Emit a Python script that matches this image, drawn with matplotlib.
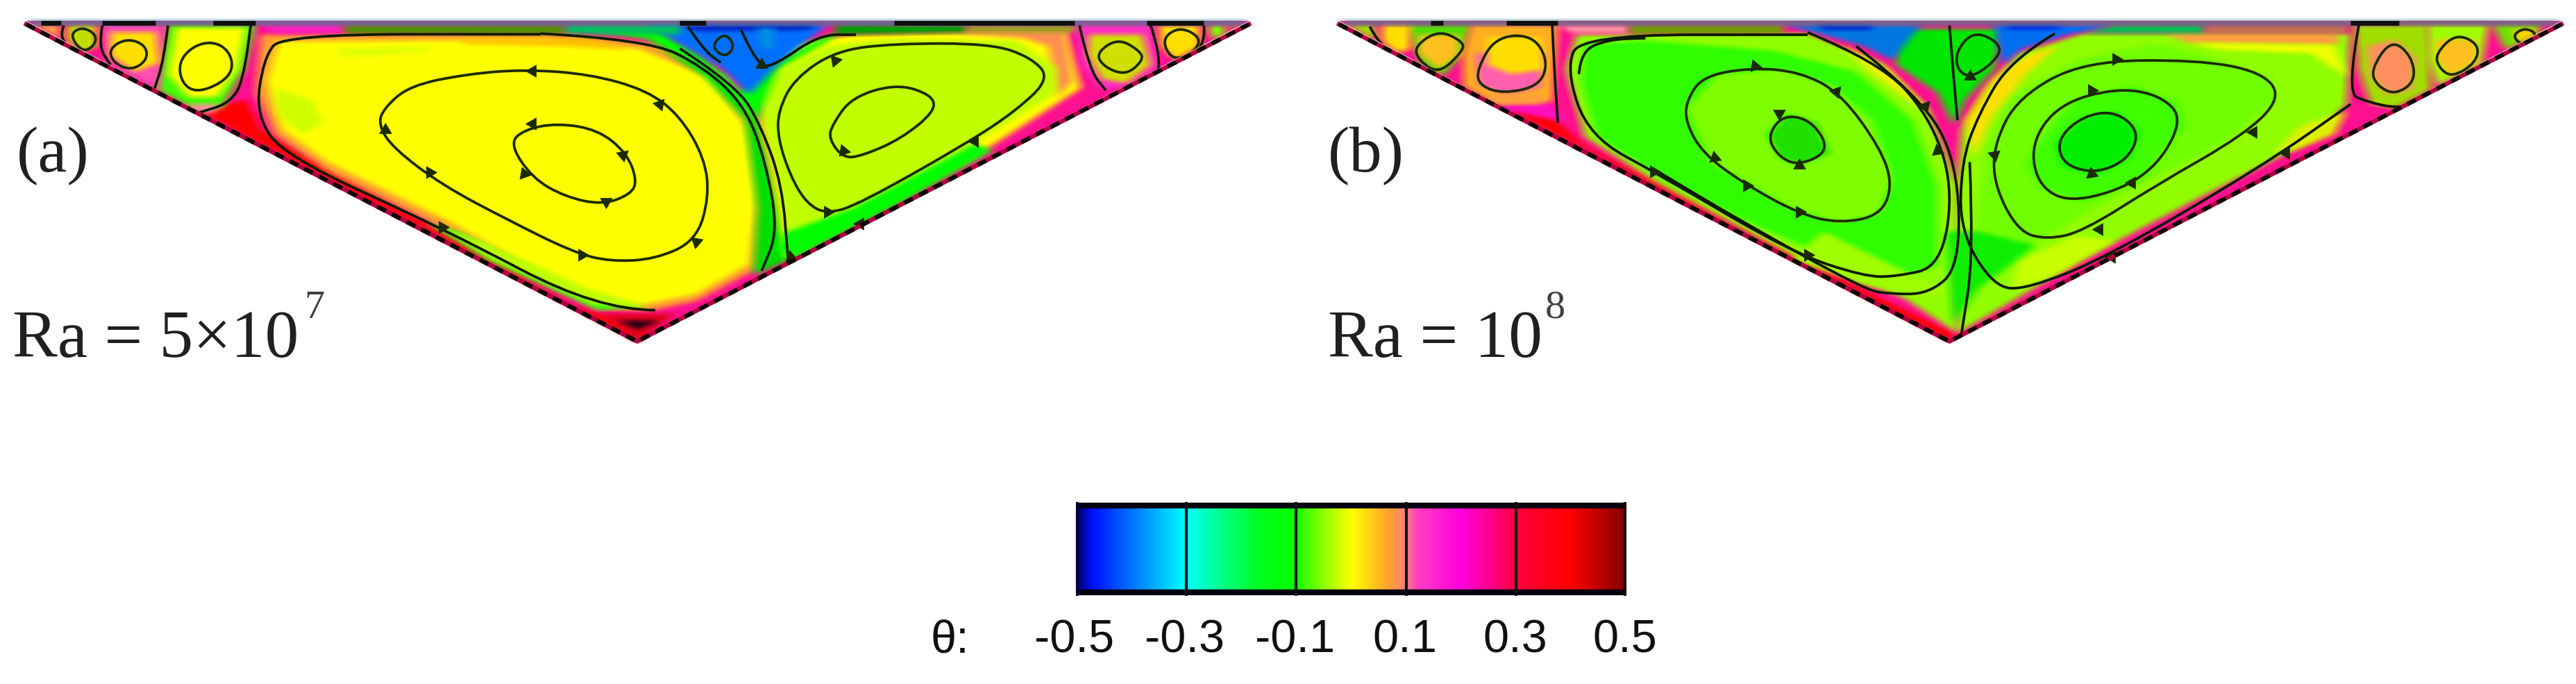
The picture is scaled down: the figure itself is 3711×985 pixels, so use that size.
import numpy as np
import matplotlib
matplotlib.use("Agg")
import matplotlib.pyplot as plt
from matplotlib.colors import LinearSegmentedColormap, to_rgb
from matplotlib.path import Path
from matplotlib.patches import PathPatch, Polygon

W, H = 3711, 985

# colour scale
cbar_ticks = [-0.5, -0.3, -0.1, 0.1, 0.3, 0.5]
cbar_labels = ["-0.5", "-0.3", "-0.1", "0.1", "0.3", "0.5"]
cmap_stops = [0.0, 0.03, 0.2, 0.25, 0.33, 0.4, 0.41, 0.5, 0.57, 0.6, 0.62, 0.7, 0.8, 0.9, 0.95, 1.0]
cmap_cols = ["#000060", "#0010ff", "#00ffff", "#00ffa0", "#00ff20", "#00ff00", "#30ff00", "#ffff00",
             "#ffa030", "#ff8080", "#ff40c0", "#ff00e0", "#ff0040", "#ff0000", "#c00000", "#800000"]

# panel a, coordinates
tri_a = [(32, 90), (1525, 90), (778, 1475)]
a_red = [(232, 490), (300, 430), (320, 560), (400, 730), (560, 1040), (700, 1320), (790, 1420), (778, 1480)]
a_orange = [(318, 150), (680, 140), (800, 190), (890, 330), (935, 560), (945, 900), (930, 1150), (850, 1300), (790, 1345), (730, 1335), (560, 1020), (400, 740), (335, 580), (312, 400)]
a_yellow = [(340, 180), (660, 170), (780, 210), (870, 340), (915, 560), (925, 850), (915, 1140), (850, 1270), (780, 1320), (735, 1310), (660, 1180), (550, 960), (400, 700), (345, 560), (326, 350)]
a_lime_low = [(535, 975), (600, 1060), (720, 1250), (790, 1320), (725, 1315), (600, 1120)]
a_lime_top = [(410, 210), (530, 200), (520, 225), (420, 250)]
a_lime_side = [(335, 380), (380, 430), (395, 530), (370, 580), (340, 500)]
a_amber_top = [(560, 170), (720, 170), (770, 215), (690, 200), (570, 190)]
a_green_low = [(520, 960), (560, 1000), (720, 1260), (790, 1325), (730, 1340), (600, 1130)]
a_green_mid = [(800, 200), (880, 320), (925, 520), (955, 900), (965, 1120), (920, 1190), (925, 900), (910, 520), (860, 330)]
a_right_band = [(960, 190), (1040, 150), (1300, 130), (1320, 380), (1180, 700), (1000, 1030), (960, 1120), (940, 700), (925, 400)]
a_right_orange = [(1150, 140), (1300, 130), (1310, 350), (1290, 420), (1280, 200), (1250, 165)]
a_right_cell = [(945, 320), (1010, 200), (1080, 170), (1240, 175), (1290, 290), (1290, 400), (1180, 640), (1030, 930), (980, 1040), (958, 1050), (950, 800), (930, 500)]
a_green_right = [(1190, 620), (1212, 650), (1060, 960), (968, 1125), (950, 1080), (955, 1010), (1040, 900)]
a_blue = [(790, 108), (1010, 108), (950, 280), (915, 410), (880, 290), (835, 200)]
a_blue_dark = [(830, 108), (1000, 108), (985, 130), (850, 135)]
a_cyan = [(925, 120), (945, 120), (945, 210), (930, 210)]
a_green_top = [(700, 120), (800, 120), (860, 250), (905, 400), (925, 310), (1000, 170), (1030, 130), (1010, 180), (950, 300), (925, 520), (870, 320), (790, 170)]
a_strip = [(32, 90), (1525, 90), (1525, 107), (32, 107)]
a_band1 = [(320, 107), (420, 107), (420, 145), (335, 145)]
a_band2 = [(420, 108), (690, 108), (690, 146), (420, 146)]
a_band3 = [(690, 108), (830, 108), (830, 150), (750, 150), (690, 146)]
a_band4 = [(1020, 108), (1180, 108), (1180, 140), (1020, 150)]
a_band5 = [(1180, 108), (1315, 108), (1315, 140), (1180, 140)]
a_cell1 = [(205, 108), (312, 108), (298, 300), (270, 470), (230, 470), (190, 380)]
a_cell1_in = [(215, 120), (300, 120), (290, 300), (265, 420), (230, 420), (205, 320)]
a_cell1_base = [(215, 450), (270, 450), (260, 490), (235, 490)]
a_cell2 = [(125, 108), (200, 108), (195, 390), (180, 380), (130, 260)]
a_cell2_in = [(135, 140), (190, 140), (195, 270), (165, 310), (135, 240)]
a_cell3 = [(82, 108), (118, 108), (118, 200), (100, 230), (82, 170)]
a_cell4 = [(35, 108), (72, 108), (75, 170), (60, 150)]
a_r_cell1 = [(1315, 108), (1405, 108), (1415, 300), (1385, 385), (1345, 385), (1320, 280)]
a_r_cell1_in = [(1330, 150), (1395, 150), (1405, 280), (1375, 360), (1345, 340), (1328, 240)]
a_r_cell2 = [(1415, 110), (1465, 110), (1465, 210), (1435, 260), (1418, 200)]
a_r_cell3 = [(1475, 110), (1495, 110), (1495, 160), (1482, 180)]
a_r_cell4 = [(1500, 108), (1525, 108), (1515, 150)]
a_tip = [(735, 1355), (825, 1355), (778, 1480)]
a_tip_dark = [(755, 1385), (805, 1385), (778, 1425)]

a_ring1 = [(468, 470), (500, 370), (570, 320), (640, 300), (720, 320), (790, 390), (830, 500), (860, 680), (866, 850), (850, 1040), (800, 1120), (745, 1130), (700, 1090), (620, 950), (540, 800), (480, 640), (462, 540)]
a_ring2 = [(622, 620), (640, 560), (680, 532), (730, 560), (765, 660), (778, 780), (770, 840), (735, 885), (690, 850), (650, 770)]
a_ring3 = [(950, 480), (970, 340), (1020, 220), (1090, 188), (1210, 188), (1260, 250), (1282, 340), (1240, 480), (1180, 620), (1050, 880), (1010, 925), (985, 880), (965, 760), (950, 600)]
a_ring4 = [(1016, 540), (1040, 420), (1095, 362), (1138, 410), (1142, 480), (1100, 600), (1055, 670), (1030, 685), (1012, 600)]
a_ring5 = [(218, 270), (235, 200), (260, 178), (280, 220), (285, 300), (270, 360), (240, 400), (222, 360)]
a_ring6 = [(133, 210), (155, 165), (178, 195), (180, 260), (160, 305), (138, 270)]
a_ring7 = [(1338, 230), (1365, 165), (1392, 220), (1396, 260), (1375, 325), (1348, 290)]
a_ring8 = [(868, 200), (885, 140), (898, 200), (885, 250)]
a_ring9 = [(85, 150), (100, 115), (118, 150), (115, 200), (100, 225)]
a_ring10 = [(1418, 170), (1440, 115), (1466, 160), (1460, 220), (1432, 265)]
a_sep1 = [(660, 145), (790, 170), (860, 290), (910, 460), (935, 700), (950, 1000), (930, 1170)]
a_sep2 = [(830, 210), (900, 370), (930, 550), (955, 800), (962, 1110)]
a_sep3 = [(800, 1340), (730, 1340), (540, 985), (350, 680), (312, 500), (322, 250), (345, 148), (660, 148)]
a_sep4 = [(306, 110), (300, 300), (285, 440), (240, 490)]
a_sep5 = [(205, 110), (200, 260), (188, 390)]
a_sep6 = [(905, 130), (925, 285), (945, 285), (1000, 150), (1045, 150)]
a_sep7 = [(1318, 110), (1330, 300), (1350, 390)]
a_sep8 = [(1405, 110), (1420, 270), (1405, 370)]
a_sep9 = [(125, 110), (120, 200), (135, 280)]
a_sep10 = [(78, 110), (72, 160), (90, 220)]
a_sep11 = [(1470, 110), (1472, 180), (1450, 270)]
a_sep12 = [(840, 115), (860, 220), (880, 270)]
a_arrows = [(650, 305, 90), (805, 450, 200), (470, 560, 0), (525, 745, 30), (710, 1100, 30), (850, 1045, 170), (650, 535, 90), (760, 670, 190), (640, 750, 20), (740, 870, 60), (1020, 260, 160), (1190, 610, 210), (1010, 915, 30), (1030, 650, 20), (930, 280, 0), (540, 980, 30), (965, 1110, 10), (1050, 965, 210)]
a_top_black = [(50, 75), (125, 190), (260, 312), (830, 862), (1092, 1312), (1400, 1470)]

# panel b
tri_b = [(42, 90), (1550, 90), (795, 1475)]
b_red = [(225, 460), (310, 520), (345, 630), (430, 780), (560, 1030), (700, 1270), (800, 1440), (795, 1480)]
b_pink = [(225, 440), (300, 440), (322, 520), (300, 540)]
b_left_outer = [(335, 150), (620, 145), (710, 270), (770, 480), (805, 800), (805, 1440), (740, 1290), (600, 1100), (430, 780), (345, 590), (322, 300)]
b_left_yellow = [(660, 190), (720, 300), (770, 480), (755, 460), (700, 320)]
b_left_green = [(345, 190), (420, 175), (580, 220), (680, 310), (750, 520), (780, 800), (780, 1150), (740, 1190), (640, 1100), (540, 950), (440, 770), (360, 590), (340, 350)]
b_left_lime = [(470, 470), (510, 320), (590, 300), (650, 370), (700, 520), (725, 760), (710, 920), (660, 965), (600, 900), (500, 700)]
b_left_core = [(570, 580), (595, 490), (630, 530), (648, 660), (610, 715), (585, 680)]
b_left_lime2 = [(640, 1000), (750, 1190), (790, 1250), (770, 1280), (690, 1230), (600, 1120)]
b_right_outer = [(880, 230), (960, 145), (1290, 145), (1285, 450), (1240, 610), (1100, 860), (960, 1120), (805, 1440), (800, 1000), (810, 560), (840, 380)]
b_right_orange = [(1060, 145), (1275, 145), (1275, 195), (1180, 190), (1090, 185)]
b_right_yellow2 = [(1090, 185), (1270, 195), (1285, 330), (1240, 230), (1130, 215)]
b_right_green = [(840, 640), (870, 420), (960, 250), (1050, 190), (1100, 230), (1190, 330), (1200, 430), (1130, 620), (1010, 830), (910, 1030), (880, 1130), (850, 1200), (825, 1050)]
b_right_yellow = [(815, 520), (850, 340), (890, 240), (930, 195), (890, 320), (848, 500), (825, 680)]
b_right_lime = [(900, 640), (950, 430), (1020, 370), (1075, 440), (1085, 540), (1030, 780), (960, 875), (910, 810), (890, 720)]
b_right_core = [(925, 620), (960, 510), (1000, 480), (1030, 570), (1015, 690), (975, 755), (935, 720)]
b_right_yellow3 = [(880, 1130), (950, 1020), (1000, 1040), (930, 1180), (870, 1260)]
b_right_pale = [(1230, 540), (1285, 480), (1270, 580), (1220, 650), (1195, 660)]
b_center = [(725, 125), (860, 125), (850, 300), (815, 430), (800, 540), (780, 400), (730, 280)]
b_center_low = [(790, 1000), (830, 1000), (900, 1060), (830, 1250), (800, 1400)]
b_blue1 = [(590, 108), (760, 108), (725, 260), (690, 200), (630, 140)]
b_blue2 = [(850, 108), (1000, 108), (940, 150), (885, 210), (860, 280)]
b_blue1_dark = [(630, 108), (700, 108), (700, 128), (640, 128)]
b_blue2_dark = [(860, 108), (935, 108), (925, 128), (870, 128)]
b_strip = [(42, 90), (1550, 90), (1550, 107), (42, 107)]
b_band1 = [(312, 107), (400, 107), (400, 145), (330, 145)]
b_band2 = [(400, 108), (590, 108), (590, 146), (400, 146)]
b_band3 = [(1000, 108), (1110, 108), (1110, 145), (960, 145)]
b_band4 = [(1110, 108), (1290, 108), (1285, 145), (1110, 145)]
b_cell1 = [(125, 108), (205, 108), (195, 230), (170, 330), (145, 290)]
b_cell1_in = [(140, 150), (190, 150), (190, 240), (165, 300), (140, 230)]
b_cell2 = [(205, 108), (312, 108), (305, 440), (232, 450), (195, 370), (195, 230)]
b_cell2_pink = [(210, 230), (295, 230), (290, 380), (250, 410), (215, 370)]
b_cell2_yellow = [(225, 160), (290, 160), (295, 300), (255, 320), (225, 280)]
b_cell2_orange = [(215, 410), (295, 410), (290, 450), (235, 450)]
b_cell3 = [(95, 108), (130, 108), (130, 210), (110, 240), (95, 170)]
b_cell4 = [(42, 108), (85, 108), (90, 200), (60, 160)]
b_r_cell1 = [(1295, 108), (1385, 108), (1390, 430), (1350, 470), (1315, 450), (1300, 300)]
b_r_cell1_in = [(1310, 200), (1345, 170), (1370, 250), (1365, 390), (1335, 410), (1315, 330)]
b_r_cell2 = [(1385, 108), (1460, 108), (1450, 300), (1400, 400), (1385, 250)]
b_r_cell2_in = [(1395, 170), (1445, 170), (1445, 270), (1410, 330), (1395, 250)]
b_r_cell3 = [(1465, 108), (1525, 108), (1510, 210), (1480, 210)]
b_r_cell3_in = [(1490, 125), (1518, 125), (1512, 175), (1495, 180)]

b_ring1 = [(470, 440), (490, 330), (550, 292), (610, 310), (660, 400), (710, 640), (725, 800), (710, 930), (660, 965), (610, 925), (540, 790), (490, 660), (470, 530)]
b_ring2 = [(570, 590), (590, 495), (625, 520), (648, 650), (610, 715), (585, 680)]
b_ring3 = [(850, 620), (880, 420), (960, 265), (1100, 258), (1180, 310), (1205, 420), (1160, 580), (1050, 800), (960, 1000), (915, 1035), (880, 1000), (850, 800)]
b_ring4 = [(895, 620), (930, 450), (1000, 380), (1055, 410), (1085, 520), (1040, 770), (950, 880), (905, 810)]
b_ring5 = [(928, 600), (960, 500), (1000, 480), (1030, 570), (1015, 690), (975, 750), (935, 710)]
b_ring7 = [(803, 220), (825, 135), (855, 180), (858, 240), (825, 335), (805, 310)]
b_ring8 = [(212, 300), (235, 160), (280, 150), (300, 260), (290, 370), (245, 405), (215, 370)]
b_ring9 = [(1315, 300), (1340, 170), (1365, 240), (1370, 350), (1345, 410), (1322, 370)]
b_ring10 = [(1395, 230), (1420, 145), (1448, 190), (1445, 270), (1415, 335), (1398, 290)]
b_ring11 = [(135, 200), (165, 130), (195, 180), (195, 220), (165, 320), (140, 260)]
b_ring12 = [(1490, 150), (1505, 120), (1520, 145), (1512, 185), (1498, 190)]
b_sep1 = [(620, 140), (710, 270), (770, 500), (800, 800), (785, 1150), (730, 1195), (690, 1195), (600, 1090), (440, 760), (350, 590), (322, 300), (340, 150), (620, 150)]
b_sep2 = [(680, 200), (760, 420), (805, 700), (808, 1150), (770, 1270), (720, 1270), (690, 1250), (540, 960), (430, 730)]
b_sep3 = [(925, 145), (870, 260), (830, 500), (810, 700), (808, 1000), (850, 1240), (890, 1250), (990, 1110), (1180, 720), (1290, 450)]
b_sep4 = [(820, 700), (825, 1100), (810, 1440)]
b_sep5 = [(305, 110), (308, 330), (312, 530)]
b_sep6 = [(1300, 110), (1285, 400), (1310, 440), (1350, 470), (1390, 430)]
b_sep7 = [(338, 320), (340, 220), (375, 170), (420, 165)]
b_sep8 = [(795, 110), (800, 330), (805, 520)]
b_sep9 = [(80, 115), (88, 170), (110, 240)]
b_arrows = [(555, 285, 20), (655, 395, 200), (505, 680, 10), (545, 800, 30), (610, 915, 30), (585, 490, 180), (610, 715, 0), (1000, 255, 30), (1170, 570, 210), (980, 990, 210), (970, 390, 30), (1020, 790, 210), (970, 750, 10), (430, 740, 30), (620, 1100, 30), (820, 330, 0), (765, 460, 200), (780, 650, 10), (850, 670, 190), (1210, 660, 210), (995, 1110, 210)]
b_top_black = [(155, 170), (248, 312), (1290, 1350)]


def smooth(pts, closed=True):
    # quadratic pieces through edge midpoints, so the read points act as controls
    p = np.asarray(pts, dtype=float)
    if closed:
        start = (p[-1] + p[0]) / 2
        verts, codes = [start], [Path.MOVETO]
        for i in range(len(p)):
            verts += [p[i], (p[i] + p[(i + 1) % len(p)]) / 2]
            codes += [Path.CURVE3, Path.CURVE3]
        verts.append(start)
        codes.append(Path.CLOSEPOLY)
    else:
        verts, codes = [p[0]], [Path.MOVETO]
        for i in range(1, len(p) - 1):
            verts += [p[i], (p[i] + p[i + 1]) / 2]
            codes += [Path.CURVE3, Path.CURVE3]
        verts += [p[-1]]
        codes += [Path.LINETO]
    return Path(verts, codes)


def soft_fill(col, rx=9, ry=4):
    # colour areas in the source run into each other, so the edges get a small blur
    rgb = to_rgb(col)
    kx = np.ones(2 * rx + 1) / (2 * rx + 1)
    ky = np.ones(2 * ry + 1) / (2 * ry + 1)

    def filt(img, dpi):
        alpha = np.pad(img[..., 3], ((ry, ry), (rx, rx)))
        alpha = np.apply_along_axis(lambda r: np.convolve(r, kx, mode="same"), 1, alpha)
        alpha = np.apply_along_axis(lambda c: np.convolve(c, ky, mode="same"), 0, alpha)
        out = np.zeros(alpha.shape + (4,))
        out[..., 0], out[..., 1], out[..., 2] = rgb
        out[..., 3] = alpha
        return out, -rx, -ry
    return filt


def panel_axes(fig, x0, x1, y1):
    ax = fig.add_axes([x0 / W, 1 - y1 / H, (x1 - x0) / W, y1 / H])
    ax.set_xlim(0, 1568)
    ax.set_ylim(y1 * 3, 0)
    ax.axis("off")
    return ax


def draw_panel(ax, tri, base, fills, rings, seps, arrows, top_black):
    clip = Polygon(tri, closed=True, transform=ax.transData, fc="none", ec="none")
    ax.add_patch(clip)
    ax.add_patch(Polygon(tri, closed=True, fc=base, ec="none"))
    for pts, col in fills:
        patch = Polygon(pts, closed=True, fc=col, ec="none")
        ax.add_patch(patch)
        patch.set_clip_path(clip)
        patch.set_agg_filter(soft_fill(col))
    for pts in rings:
        patch = PathPatch(smooth(pts), fc="none", ec="#1c2a00", lw=2.7)
        ax.add_patch(patch)
        patch.set_clip_path(clip)
    for pts in seps:
        patch = PathPatch(smooth(pts, closed=False), fc="none", ec="#0c1a00", lw=2.7)
        ax.add_patch(patch)
        patch.set_clip_path(clip)
    for x, y, ang in arrows:
        ax.scatter([x], [y], marker=(3, 0, ang), s=240, c="#1c2a00", linewidths=0, zorder=4)
    # edges of the triangle
    (lx, ty), (rx, _), (ax_, ay) = tri
    ax.plot([lx, ax_, rx], [ty + 15, ay, ty + 15], color="#b00040", lw=4.5, zorder=5)
    ax.plot([lx, ax_, rx], [ty + 15, ay, ty + 15], color="#100008", lw=4.5, dashes=(2.2, 1.6), zorder=5)
    for a, b in top_black:
        ax.plot([a, b], [ty + 9, ty + 9], color="#101010", lw=5, solid_capstyle="butt", zorder=5)


plt.rcParams["font.family"] = ["Liberation Serif", "DejaVu Serif"]
fig = plt.figure(figsize=(W / 100, H / 100), dpi=100, facecolor="white")

# (a)
ax_a = panel_axes(fig, 0, 1850, 520)
a_fills = [
    (a_red, "#ff0000"), (a_orange, "#ffa030"), (a_green_low, "#20ff00"), (a_yellow, "#ffff00"),
    (a_lime_low, "#c0ff00"), (a_lime_top, "#e0ff00"), (a_lime_side, "#d0ff00"), (a_amber_top, "#ffc000"),
    (a_green_mid, "#00e000"), (a_right_band, "#ffff00"), (a_right_orange, "#ff9050"),
    (a_right_cell, "#c0ff00"), (a_green_right, "#00ff00"), (a_green_top, "#00ff00"), (a_blue, "#0070ff"),
    (a_blue_dark, "#0020c0"), (a_cyan, "#0090e0"),
    (a_band1, "#ff20c0"), (a_band2, "#509000"), (a_band3, "#00c060"), (a_band4, "#00a000"), (a_band5, "#a0a020"),
    (a_cell1, "#40ff00"), (a_cell1_in, "#ffff00"), (a_cell1_base, "#ff90a0"),
    (a_cell2, "#ff50b0"), (a_cell2_in, "#ffe000"), (a_cell3, "#c0e000"), (a_cell4, "#ffa040"),
    (a_r_cell1, "#ff30c0"), (a_r_cell1_in, "#d0e000"), (a_r_cell2, "#ffe000"),
    (a_r_cell3, "#80ff00"), (a_r_cell4, "#a0c000"), (a_tip, "#e00020"), (a_tip_dark, "#200010"), (a_strip, "#3f8098"),
]
draw_panel(ax_a, tri_a, "#ff1090", a_fills,
           [a_ring1, a_ring2, a_ring3, a_ring4, a_ring5, a_ring6, a_ring7, a_ring8, a_ring9, a_ring10],
           [a_sep1, a_sep2, a_sep3, a_sep4, a_sep5, a_sep6, a_sep7, a_sep8, a_sep9, a_sep10, a_sep11, a_sep12],
           a_arrows, a_top_black)

# (b)
ax_b = panel_axes(fig, 1880, 3711, 520)
b_fills = [
    (b_pink, "#ff10c0"), (b_red, "#ff0000"), (b_left_outer, "#90ff00"), (b_left_yellow, "#f0f000"),
    (b_left_green, "#30ff00"), (b_left_lime, "#80ff00"), (b_left_core, "#20e000"), (b_left_lime2, "#a0ff00"),
    (b_right_outer, "#90ff00"), (b_right_orange, "#ffa040"),
    (b_right_yellow2, "#f0ff00"), (b_right_pale, "#e0f000"),
    (b_right_green, "#70ff00"), (b_right_yellow, "#ffe000"), (b_right_lime, "#40ff00"), (b_right_core, "#00ee00"), (b_right_yellow3, "#c8ff00"),
    (b_center_low, "#10ee00"), (b_center, "#00e800"), (b_blue1, "#0078e0"), (b_blue2, "#0070f0"),
    (b_blue1_dark, "#0020d0"), (b_blue2_dark, "#0020e0"),
    (b_band1, "#ff90a0"), (b_band2, "#70a000"), (b_band3, "#00c050"), (b_band4, "#c07050"),
    (b_cell1, "#50e000"), (b_cell1_in, "#ffc020"), (b_cell2, "#ffb020"), (b_cell2_pink, "#ff60b0"),
    (b_cell2_yellow, "#ffe000"), (b_cell2_orange, "#ffa040"), (b_cell3, "#ffe000"), (b_cell4, "#a0e000"),
    (b_r_cell1, "#a0e000"), (b_r_cell1_in, "#ff9060"), (b_r_cell2, "#a0ff00"), (b_r_cell2_in, "#ffc020"),
    (b_r_cell3, "#70e000"), (b_r_cell3_in, "#ffd000"), (b_strip, "#4a7f88"),
]
draw_panel(ax_b, tri_b, "#ff1090", b_fills,
           [b_ring1, b_ring2, b_ring3, b_ring4, b_ring5, b_ring7, b_ring8, b_ring9, b_ring10, b_ring11, b_ring12],
           [b_sep1, b_sep2, b_sep3, b_sep4, b_sep5, b_sep6, b_sep7, b_sep8, b_sep9],
           b_arrows, b_top_black)

# overlay for texts and the colour bar, in picture pixels
ov = fig.add_axes([0, 0, 1, 1], facecolor="none")
ov.set_xlim(0, W)
ov.set_ylim(H, 0)
ov.axis("off")
ov.text(24, 225, "(a)", fontsize=68, ha="left", va="center", color="#202020")
ov.text(18, 514, "Ra = 5×10", fontsize=70, ha="left", va="baseline", color="#202020")
ov.text(438, 458, "7", fontsize=42, ha="left", va="baseline", color="#404040")
ov.text(1913, 225, "(b)", fontsize=68, ha="left", va="center", color="#202020")
ov.text(1913, 514, "Ra = 10", fontsize=70, ha="left", va="baseline", color="#202020")
ov.text(2226, 458, "8", fontsize=42, ha="left", va="baseline", color="#404040")

cmap = LinearSegmentedColormap.from_list("theta", list(zip(cmap_stops, cmap_cols)), N=512)
grad = np.linspace(-0.5, 0.5, 512).reshape(1, -1)
bar_x0, bar_x1, bar_y0, bar_y1 = 1550, 2343, 725, 856
ov.imshow(grad, extent=[bar_x0, bar_x1, bar_y1, bar_y0], aspect="auto", cmap=cmap, vmin=-0.5, vmax=0.5, zorder=2)
ov.set_xlim(0, W)
ov.set_ylim(H, 0)
ov.plot([bar_x0, bar_x1], [bar_y0 + 3, bar_y0 + 3], color="#000010", lw=6, zorder=3, solid_capstyle="butt")
ov.plot([bar_x0, bar_x1], [bar_y1 - 3, bar_y1 - 3], color="#000010", lw=6, zorder=3, solid_capstyle="butt")
ov.plot([bar_x0 + 2, bar_x0 + 2], [bar_y0, bar_y1], color="#000040", lw=3, zorder=3)
ov.plot([bar_x1 - 2, bar_x1 - 2], [bar_y0, bar_y1], color="#200000", lw=3, zorder=3)
for t, lab in zip(cbar_ticks, cbar_labels):
    xp = bar_x0 + (t + 0.5) * (bar_x1 - bar_x0)
    if -0.5 < t < 0.5:
        ov.plot([xp, xp], [bar_y0, bar_y1], color="#101010", lw=3, zorder=3)
    ov.text(xp - 2, 922, lab, family=["Liberation Sans"], fontsize=48, ha="center", va="center", color="#101010")
ov.text(1368, 922, "θ:", family=["Liberation Sans"], fontsize=48, ha="center", va="center", color="#101010")

fig.savefig("out.png", dpi=100, facecolor="white")
